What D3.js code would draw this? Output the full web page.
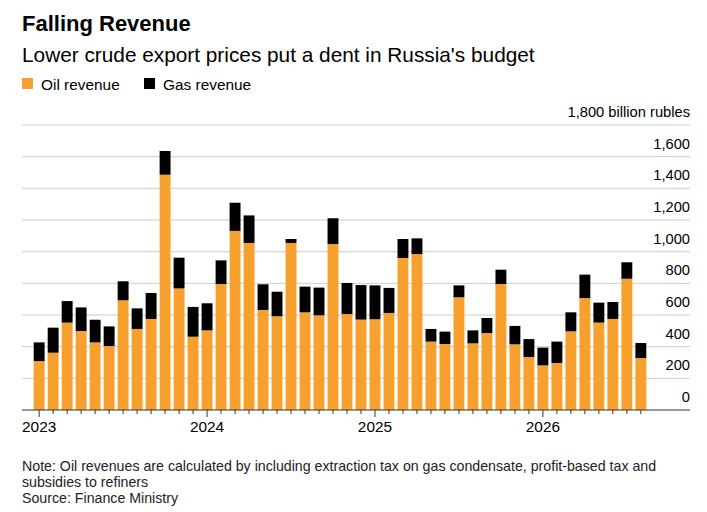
<!DOCTYPE html>
<html><head><meta charset="utf-8">
<script src="https://cdn.jsdelivr.net/npm/d3@7"></script>
<style>body{margin:0;background:#fff;font-family:"Liberation Sans",Arial,sans-serif}</style>
</head><body><svg id="c" width="707" height="512"></svg>
<script>
const years = ["2023", "2024", "2025", "2026"];
const oil = [309,362,552,499,427,404,693,512,575,1486,768,463,
  503,796,1131,1055,632,592,1055,617,598,1048,606,571,
  573,613,960,985,432,417,712,421,486,796,415,335,
  282,297,497,707,552,575,829,328];
const total = [427,520,688,648,570,528,813,642,739,1636,962,651,
  674,945,1309,1229,794,747,1080,779,773,1211,802,789,
  787,771,1080,1084,512,495,787,503,581,886,531,448,
  394,432,617,855,678,682,933,423];
const gas = total.map((t, i) => t - oil[i]);
const yTicks = [0,200,400,600,800,1000,1200,1400,1600,1800];

const svg = d3.select("#c");
const orange = "#f7a02e";

const x = d3.scaleBand().domain(d3.range(oil.length)).range([33, 647]).paddingInner(0.22).paddingOuter(0.05);
const y = d3.scaleLinear().domain([0, 1800]).range([410, 125]);

svg.append("text").attr("x", 22).attr("y", 31).attr("font-size", 22).attr("font-weight", "bold").text("Falling Revenue");
svg.append("text").attr("x", 22).attr("y", 62).attr("font-size", 20.8).text("Lower crude export prices put a dent in Russia's budget");
const leg = [["Oil revenue", orange], ["Gas revenue", "#000"]];
leg.forEach((d, i) => {
  const lx = 22 + i * 122;
  svg.append("rect").attr("x", lx).attr("y", 78).attr("width", 11).attr("height", 11).attr("fill", d[1]);
  svg.append("text").attr("x", lx + 19).attr("y", 90).attr("font-size", 15.4).text(d[0]);
});

const grid = svg.append("g");
yTicks.forEach(v => {
  if (v > 0) grid.append("line").attr("x1", 22).attr("x2", 690).attr("y1", y(v)).attr("y2", y(v)).attr("stroke", "#ccc");
  grid.append("text").attr("x", 690).attr("y", y(v) - 8).attr("text-anchor", "end").attr("font-size", 14.7)
    .text(v === 1800 ? "1,800 billion rubles" : d3.format(",")(v));
});

svg.append("g").selectAll("rect").data(oil).join("rect")
  .attr("x", (d, i) => x(i)).attr("width", x.bandwidth())
  .attr("y", d => y(d)).attr("height", d => y(0) - y(d)).attr("fill", orange);
svg.append("g").selectAll("rect").data(gas).join("rect")
  .attr("x", (d, i) => x(i)).attr("width", x.bandwidth())
  .attr("y", (d, i) => y(total[i])).attr("height", d => y(0) - y(d)).attr("fill", "#000");

svg.append("line").attr("x1", 22).attr("x2", 690).attr("y1", 410).attr("y2", 410).attr("stroke", "#333").attr("stroke-width", 1.2);
const ax = svg.append("g");
oil.forEach((d, i) => {
  const cx = x(i) + x.bandwidth() / 2;
  const major = i % 12 === 0;
  ax.append("line").attr("x1", cx).attr("x2", cx).attr("y1", 410).attr("y2", major ? 417 : 414).attr("stroke", "#333");
  if (major) ax.append("text").attr("x", cx).attr("y", 432).attr("text-anchor", "middle").attr("font-size", 15.4).text(years[i / 12]);
});

const notes = ["Note: Oil revenues are calculated by including extraction tax on gas condensate, profit-based tax and",
  "subsidies to refiners", "Source: Finance Ministry"];
notes.forEach((t, i) => svg.append("text").attr("x", 22).attr("y", 471 + i * 16).attr("font-size", 14.2).attr("fill", "#222").text(t));
</script></body></html>
